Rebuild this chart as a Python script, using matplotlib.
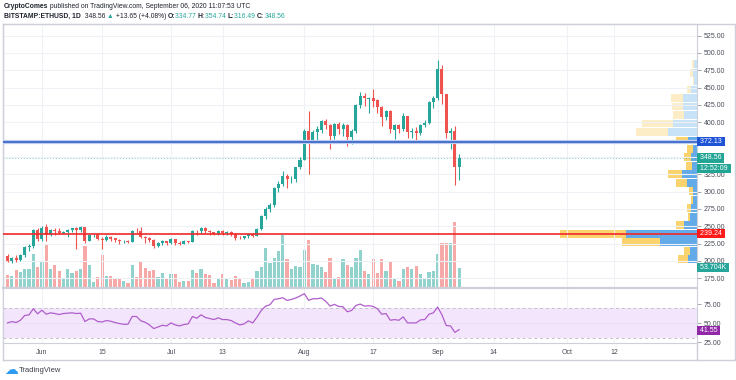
import numpy as np
import pandas as pd
import matplotlib
matplotlib.use("Agg")
import matplotlib.pyplot as plt
import matplotlib.dates as mdates
from matplotlib.lines import Line2D
from matplotlib.transforms import blended_transform_factory

plt.rcParams['font.family'] = ['Liberation Sans', 'DejaVu Sans']

# daily candles, BITSTAMP:ETHUSD
dates = pd.date_range("2020-05-24", "2020-09-06", freq="D")

opens = [207.5, 200.5, 204.0, 201.5, 208.5, 220.0, 221.0, 244.0, 231.5, 249.0,
         238.0, 244.5, 243.5, 240.0, 241.5, 245.0, 247.5, 244.5, 248.5, 229.0,
         237.0, 238.5, 232.0, 230.5, 234.5, 232.5, 230.0, 228.0, 229.0, 227.5,
         243.5, 243.0, 235.0, 232.5, 230.0, 221.5, 225.5, 228.5, 226.5, 231.0,
         226.5, 225.0, 228.5, 227.5, 243.5, 243.0, 248.0, 243.0, 241.0, 239.5,
         243.0, 240.5, 241.5, 239.0, 233.5, 232.5, 235.5, 239.5, 236.5, 245.5,
         265.0, 275.0, 280.5, 305.0, 311.5, 322.5, 317.5, 318.0, 335.0, 346.0,
         388.0, 374.0, 386.5, 389.0, 402.0, 395.5, 380.0, 397.5, 390.5, 396.0,
         379.0, 388.0, 425.0, 438.5, 433.5, 434.5, 432.0, 422.5, 408.0, 416.5,
         389.5, 396.0, 391.0, 408.5, 386.0, 387.0, 384.0, 395.5, 399.5, 429.0,
         434.5, 476.5, 440.5, 384.0, 387.0, 334.77]

highs = [210.0, 206.0, 208.0, 210.0, 222.0, 225.0, 246.0, 247.0, 250.0, 253.0,
         245.5, 248.0, 247.0, 243.0, 246.0, 248.0, 249.0, 251.0, 249.5, 239.0,
         239.5, 239.0, 234.0, 237.0, 236.5, 233.5, 231.5, 230.5, 230.0, 245.0,
         248.0, 249.0, 236.0, 234.0, 231.0, 227.0, 229.5, 229.0, 232.5, 232.0,
         228.0, 230.0, 229.0, 244.0, 245.0, 249.5, 249.0, 244.0, 242.0, 244.0,
         244.0, 242.5, 243.0, 240.0, 235.5, 236.5, 240.0, 240.0, 247.0, 266.0,
         278.0, 283.0, 306.0, 315.0, 330.0, 325.0, 322.0, 336.0, 350.0, 390.0,
         416.0, 389.0, 395.0, 404.0, 405.0, 398.0, 399.0, 400.0, 399.0, 397.0,
         390.0, 427.0, 443.0, 442.0, 436.0, 447.5, 434.0, 424.0, 418.0, 417.5,
         398.0, 398.0, 414.0, 409.0, 392.0, 393.0, 398.0, 403.0, 430.0, 438.0,
         490.0, 482.0, 441.0, 392.0, 395.0, 354.74]

lows = [198.0, 196.5, 199.0, 200.0, 205.0, 214.0, 219.0, 229.0, 229.0, 229.0,
        236.0, 238.0, 238.5, 239.0, 234.0, 242.0, 217.0, 241.0, 226.0, 228.0,
        234.5, 230.5, 217.5, 228.5, 229.0, 227.0, 225.0, 226.0, 226.0, 227.0,
        240.0, 233.0, 226.0, 227.0, 219.0, 220.5, 223.5, 223.5, 225.0, 223.5,
        223.0, 224.0, 225.5, 227.0, 238.0, 239.0, 240.5, 237.5, 237.5, 237.0,
        238.0, 237.0, 236.5, 230.5, 231.0, 231.5, 233.5, 235.0, 235.5, 244.0,
        260.0, 270.0, 278.0, 300.0, 308.0, 305.0, 313.0, 314.0, 332.0, 345.0,
        325.0, 370.0, 375.0, 385.0, 390.0, 361.0, 376.0, 383.0, 380.0, 366.0,
        368.0, 385.0, 420.0, 423.0, 413.0, 422.0, 414.0, 395.0, 403.0, 385.0,
        376.0, 385.0, 388.0, 377.0, 377.0, 372.0, 381.0, 393.0, 398.0, 420.0,
        432.0, 426.0, 378.0, 362.0, 310.0, 316.49]

closes = [200.5, 204.0, 201.5, 208.5, 220.5, 222.0, 244.0, 231.5, 248.0, 237.5,
          244.5, 243.0, 240.0, 241.5, 245.0, 247.0, 244.5, 248.5, 228.0, 237.0,
          238.0, 232.0, 230.5, 234.5, 232.0, 230.0, 228.0, 229.0, 227.5, 243.5,
          243.0, 235.0, 232.5, 230.0, 221.5, 225.5, 228.5, 226.5, 231.0, 226.5,
          225.0, 228.5, 227.5, 243.5, 243.0, 248.0, 243.0, 241.0, 239.5, 243.0,
          240.5, 241.5, 239.0, 233.5, 232.5, 235.5, 239.0, 236.5, 245.5, 265.0,
          275.5, 280.0, 305.5, 311.5, 322.0, 317.5, 318.0, 335.0, 346.0, 388.0,
          374.0, 386.5, 390.0, 402.0, 395.5, 380.0, 397.5, 390.5, 395.5, 379.0,
          388.0, 425.0, 438.0, 434.5, 434.5, 431.0, 422.5, 407.0, 416.5, 390.0,
          396.0, 391.0, 409.0, 386.5, 388.0, 384.0, 395.5, 399.5, 429.0, 434.5,
          476.5, 440.5, 384.0, 387.0, 334.77, 348.56]

# volume in thousands
volumes = [35, 33, 47, 42, 50, 50, 89, 56, 69, 114,
           49, 60, 45, 23, 49, 39, 45, 50, 111, 62,
           16, 30, 87, 32, 33, 24, 27, 18, 12, 61,
           30, 71, 52, 46, 48, 29, 39, 26, 38, 38,
           17, 19, 18, 48, 39, 49, 36, 34, 14, 26,
           36, 27, 20, 32, 24, 12, 17, 24, 45, 56,
           105, 65, 79, 99, 139, 76, 49, 58, 55, 100,
           126, 63, 62, 55, 41, 79, 26, 28, 76, 62,
           55, 79, 100, 46, 37, 77, 39, 76, 45, 72,
           26, 19, 50, 56, 49, 58, 37, 26, 43, 46,
           90, 118, 118, 120, 175, 53.704]

rsi = [50.5, 52.3, 51.0, 54.0, 60.3, 61.2, 69.2, 62.5, 67.4, 62.0,
       63.8, 62.9, 61.6, 62.9, 63.4, 63.8, 62.9, 63.4, 52.3, 55.8,
       55.8, 52.3, 51.8, 53.6, 52.7, 51.0, 49.6, 48.7, 48.7, 59.0,
       59.0, 53.2, 51.4, 47.8, 43.0, 45.2, 47.4, 46.5, 50.5, 47.8,
       46.5, 48.3, 49.2, 59.0, 56.7, 61.2, 57.6, 56.3, 54.9, 57.2,
       54.9, 54.9, 53.6, 50.5, 47.8, 49.2, 53.2, 50.5, 58.1, 67.0,
       72.7, 74.5, 81.6, 82.5, 83.8, 80.3, 81.6, 83.4, 86.1, 89.2,
       80.3, 82.5, 82.5, 83.4, 79.0, 72.7, 75.0, 72.3, 71.8, 65.2,
       67.0, 73.6, 75.4, 72.7, 73.2, 72.3, 69.2, 62.0, 62.9, 54.0,
       54.9, 54.0, 58.5, 50.5, 50.5, 50.5, 54.5, 54.9, 62.0, 63.8,
       71.4, 61.2, 47.0, 46.5, 38.0, 41.55]

# visible range volume profile, rows from bottom to top (up / down volume)
prof_up = [90, 70, 370, 710, 130, 70, 63, 37, 43, 97, 147, 53,
           60, 43, 87, 293, 237, 127, 137, 143, 63, 33, 37, 30]
prof_down = [100, 60, 377, 660, 80, 20, 34, 23, 34, 113, 146, 57,
             67, 54, 123, 320, 310, 116, 116, 117, 33, 10, 33, 20]
value_area_rows = 15

resistance = 372.13
support = 239.24
last_price = 348.56
countdown = "12:52:09"

price_ticks = [175, 200, 225, 250, 275, 300, 325, 350, 375, 400, 425, 450, 475, 500, 525]
hidden_ticks = [350, 375]  # covered by the price boxes in the original
rsi_ticks = [25, 50, 75]
time_ticks = ["2020-06-01", "2020-06-15", "2020-07-01", "2020-07-13", "2020-08-01",
              "2020-08-17", "2020-09-01", "2020-09-14", "2020-10-01", "2020-10-12"]
time_labels = ["Jun", "15", "Jul", "13", "Aug", "17", "Sep", "14", "Oct", "12"]

UP, DOWN = '#26A69A', '#EF5350'
VUP, VDOWN = '#92D2CC', '#F7A9A7'
GRID = '#EEF1F6'
BORDER = '#CDD0D8'
TXT = '#4A4E59'
FS = 5

W, H = 736, 380
fig = plt.figure(figsize=(W / 100, H / 100), dpi=100)


def rect(x0, y0, x1, y1):
    return [x0 / W, 1 - y1 / H, (x1 - x0) / W, (y1 - y0) / H]


# outer frame
frame = fig.add_axes(rect(3, 24, 735, 360), zorder=0)
frame.set_xticks([])
frame.set_yticks([])
frame.patch.set_visible(False)
for s in frame.spines.values():
    s.set_color(BORDER)
    s.set_linewidth(1)

ax_vol = fig.add_axes(rect(3, 24, 697, 288), zorder=1)
ax_prof = fig.add_axes(rect(3, 24, 697, 288), zorder=2)
ax = fig.add_axes(rect(3, 24, 697, 288), zorder=3)
ax_rsi = fig.add_axes(rect(3, 288, 697, 343), zorder=3)

x = mdates.date2num(dates)
o, h, l, c = map(np.array, (opens, highs, lows, closes))
up = c >= o
xmin = x[0] - 1.05
xmax = x[0] + 160.3
pmin, pmax = 160.9, 541.8

# volume
ax_vol.bar(x, volumes, width=0.75, color=np.where(up, VUP, VDOWN), linewidth=0)
ax_vol.set_xlim(xmin, xmax)
ax_vol.set_ylim(0, 698)
ax_vol.axis('off')

# volume profile
total = np.array(prof_up) + np.array(prof_down)
edges = np.linspace(l.min(), h.max(), len(prof_up) + 1)
centers = (edges[:-1] + edges[1:]) / 2
row_h = (edges[1] - edges[0]) * 0.92
in_va = np.arange(len(prof_up)) < value_area_rows
ax_prof.barh(centers, prof_up, height=row_h, color=np.where(in_va, '#62ABE8', '#C8E2F7'), linewidth=0)
ax_prof.barh(centers, prof_down, left=prof_up, height=row_h,
             color=np.where(in_va, '#FBD36E', '#FCEDC7'), linewidth=0)
ax_prof.set_xlim(total.max() / 0.197, 0)
ax_prof.set_ylim(pmin, pmax)
ax_prof.axis('off')

# candles
ax.patch.set_visible(False)
col = np.where(up, UP, DOWN)
ax.vlines(x, l, h, colors=col, linewidth=0.8, zorder=3)
body = np.maximum(np.abs(c - o), 0.6)
ax.bar(x, body, bottom=np.minimum(o, c), width=0.7, color=col, linewidth=0, zorder=4)
ax.set_xlim(xmin, xmax)
ax.set_ylim(pmin, pmax)

tick_x = mdates.date2num(pd.to_datetime(time_ticks))
for tx in tick_x:
    ax.axvline(tx, color=GRID, linewidth=0.8, zorder=0)
    ax_rsi.axvline(tx, color=GRID, linewidth=0.8, zorder=0)
for p in price_ticks:
    ax.axhline(p, color=GRID, linewidth=0.8, zorder=0)

# horizontal levels
ax.axhline(resistance, color='#BCCDF0', linewidth=3, zorder=5)
ax.axhline(resistance, color='#3561C8', linewidth=1.2, zorder=6)
ax.axhline(support, color='#F02A2A', linewidth=1.2, zorder=6)
ax.axhline(last_price, color=UP, alpha=0.55, linewidth=0.7, linestyle=(0, (1, 2)), zorder=2)

ax.yaxis.tick_right()
ax.set_yticks(price_ticks)
ax.set_yticklabels(["" if p in hidden_ticks else f"{p:.2f}" for p in price_ticks])
ax.tick_params(axis='y', length=3, width=0.6, color='#9598A1', labelsize=FS, labelcolor=TXT, pad=2)
ax.set_xticks([])
for s in ax.spines.values():
    s.set_color(BORDER)

ytr = ax.get_yaxis_transform()
box = dict(boxstyle='square,pad=0.16', edgecolor='none')


def price_box(axis, trans, value, text, color, dy=0):
    axis.annotate(f" {text} ", xy=(1.0, value), xycoords=trans, xytext=(0.6, dy),
                  textcoords='offset points', ha='left', va='center', fontsize=FS, color='white',
                  bbox=dict(box, facecolor=color), zorder=20, annotation_clip=False)


price_box(ax, ytr, resistance, f"{resistance:.2f}", '#1E53D6')
price_box(ax, ytr, support, f"{support:.2f}", '#FF1A1A')
price_box(ax, ytr, last_price, f"{last_price:.2f}", '#22A594')
price_box(ax, ytr, last_price, countdown, '#22A594', dy=-7.4)
vtr = blended_transform_factory(ax.transAxes, ax_vol.transData)
price_box(ax, vtr, volumes[-1], f"{volumes[-1]:.3f}K", UP)

# RSI pane
ax_rsi.fill_between([xmin, xmax], 30, 70, color='#F3E6FC', linewidth=0, zorder=0)
ax_rsi.axhline(50, color='#E6DDF0', linewidth=0.6, zorder=0.5)
ax_rsi.axhline(70, color='#C3BFCB', linewidth=0.7, linestyle=(0, (3, 3)), zorder=1)
ax_rsi.axhline(30, color='#C3BFCB', linewidth=0.7, linestyle=(0, (3, 3)), zorder=1)
ax_rsi.plot(x, rsi, color='#B15DCC', linewidth=0.9, zorder=3)
ax_rsi.set_xlim(xmin, xmax)
ax_rsi.set_ylim(23.9, 96.7)
ax_rsi.yaxis.tick_right()
ax_rsi.set_yticks(rsi_ticks)
ax_rsi.set_yticklabels([f"{v:.2f}" for v in rsi_ticks])
ax_rsi.tick_params(axis='y', length=3, width=0.6, color='#9598A1', labelsize=FS, labelcolor=TXT, pad=2)
ax_rsi.set_xticks(tick_x)
ax_rsi.set_xticklabels(time_labels)
ax_rsi.tick_params(axis='x', length=0, labelsize=FS, labelcolor=TXT, pad=4)
for s in ax_rsi.spines.values():
    s.set_color(BORDER)
ax_rsi.spines['top'].set_linewidth(1.6)
price_box(ax_rsi, ax_rsi.get_yaxis_transform(), rsi[-1], f"{rsi[-1]:.2f}", '#9128A8', dy=-0.6)

# right axis line through the time strip
fig.add_artist(Line2D([697 / W, 697 / W], [1 - 343 / H, 1 - 360 / H], transform=fig.transFigure,
                      color=BORDER, linewidth=1))

# header
renderer = fig.canvas.get_renderer()


def text_runs(ypix, runs, xpix=4):
    for s, color, weight in runs:
        t = fig.text(xpix / W, 1 - ypix / H, s, color=color, fontweight=weight, fontsize=4.85,
                     ha='left', va='center')
        xpix += t.get_window_extent(renderer=renderer).width


DARK = '#1E222D'
text_runs(6, [("CryptoComes", DARK, 'bold'),
              (" published on TradingView.com, September 06, 2020 11:07:53 UTC", DARK, 'normal')])
text_runs(16, [("BITSTAMP:ETHUSD, 1D", DARK, 'bold'),
               ("  348.56 ", DARK, 'normal'), ("\u25B2", UP, 'normal'),
               (" +13.65 (+4.08%) ", DARK, 'normal'),
               ("O:", DARK, 'bold'), ("334.77 ", UP, 'normal'),
               ("H:", DARK, 'bold'), ("354.74 ", UP, 'normal'),
               ("L:", DARK, 'bold'), ("316.49 ", UP, 'normal'),
               ("C:", DARK, 'bold'), ("348.56", UP, 'normal')])

# footer
fig.text(4 / W, 1 - 370 / H, "\u2601", color='#2E9BF0', fontsize=10, ha='left', va='center',
         family='DejaVu Sans')
fig.text(19 / W, 1 - 370 / H, "TradingView", color='#3C3F48', fontsize=FS + 0.5, ha='left', va='center')

fig.savefig("out.png", dpi=100)
